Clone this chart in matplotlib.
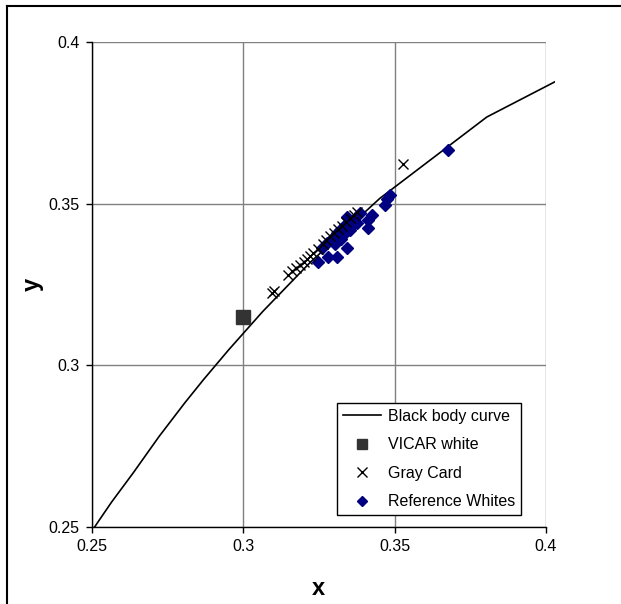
import numpy as np
import matplotlib.pyplot as plt
from matplotlib.lines import Line2D
from matplotlib.patches import Rectangle

plt.rcParams['font.family'] = ['Liberation Sans', 'DejaVu Sans']

# black body (Planckian) locus, 30000 K .. 3000 K
bb_x = [0.2501, 0.2527, 0.2565, 0.2637, 0.2722, 0.2807, 0.2869, 0.2952,
        0.3064, 0.3221, 0.3451, 0.3805, 0.4369]
bb_y = [0.2489, 0.2525, 0.2577, 0.2668, 0.2780, 0.2884, 0.2956, 0.3048,
        0.3166, 0.3318, 0.3516, 0.3768, 0.4041]

vicar_x = [0.300]
vicar_y = [0.3148]

gray_x = [0.3095, 0.3101, 0.3148, 0.3161, 0.3174, 0.3187, 0.3201, 0.3211,
          0.3220, 0.3230, 0.3247, 0.3263, 0.3273, 0.3287, 0.3300, 0.3313,
          0.3326, 0.3339, 0.3353, 0.3366, 0.3376, 0.3527]
gray_y = [0.3224, 0.3230, 0.3280, 0.3292, 0.3301, 0.3310, 0.3320, 0.3329,
          0.3338, 0.3348, 0.3360, 0.3375, 0.3388, 0.3400, 0.3409, 0.3422,
          0.3431, 0.3443, 0.3456, 0.3465, 0.3474, 0.3622]

ref_x = [0.3675, 0.3485, 0.3475, 0.3468, 0.3425, 0.3412, 0.3412, 0.3386,
         0.3343, 0.3353, 0.3376, 0.3343, 0.3310, 0.3280, 0.3247, 0.3260,
         0.3277, 0.3296, 0.3313, 0.3329, 0.3353, 0.3320, 0.3310, 0.3336,
         0.3363, 0.3290, 0.3303, 0.3323]
ref_y = [0.3666, 0.3527, 0.3515, 0.3496, 0.3465, 0.3450, 0.3425, 0.3471,
         0.3459, 0.3428, 0.3440, 0.3363, 0.3335, 0.3335, 0.3320, 0.3363,
         0.3379, 0.3394, 0.3403, 0.3403, 0.3419, 0.3419, 0.3409, 0.3434,
         0.3450, 0.3388, 0.3375, 0.3391]

ticks = [0.25, 0.3, 0.35, 0.4]
tick_labels = ['0.25', '0.3', '0.35', '0.4']

fig = plt.figure(figsize=(6.21, 6.04), dpi=100)
ax = fig.add_axes([0.148, 0.1275, 0.731, 0.803])

ax.set_xlim(0.25, 0.4)
ax.set_ylim(0.25, 0.4)
ax.set_xticks(ticks, tick_labels)
ax.set_yticks(ticks, tick_labels)
ax.grid(True, color='#808080', lw=1)
ax.set_axisbelow(True)
for s in ['top', 'right']:
    ax.spines[s].set_visible(False)
for s in ['left', 'bottom']:
    ax.spines[s].set_linewidth(1)
ax.tick_params(direction='out', length=4, width=1, labelsize=11.5, pad=5)

curve, = ax.plot(bb_x, bb_y, color='black', lw=1.2, zorder=3)
curve.set_clip_path(Rectangle((0, 0), 1.02, 1.0, transform=ax.transAxes))

ax.plot(vicar_x, vicar_y, ls='none', marker='s', ms=10.5, color='#333333',
        zorder=4)
ax.plot(ref_x, ref_y, ls='none', marker='D', ms=6, color='#000080',
        zorder=4)
ax.plot(gray_x, gray_y, ls='none', marker='x', ms=7, mew=1, color='black',
        zorder=5)

ax.set_xlabel('x', fontsize=17, fontweight='bold', va='center')
ax.set_ylabel('y', fontsize=17, fontweight='bold', va='center')
ax.xaxis.set_label_coords(0.498, -0.126)
ax.yaxis.set_label_coords(-0.132, 0.5)

handles = [
    Line2D([], [], color='black', lw=1.2),
    Line2D([], [], ls='none', marker='s', ms=6.5, color='#333333'),
    Line2D([], [], ls='none', marker='x', ms=6.5, mew=1, color='black'),
    Line2D([], [], ls='none', marker='D', ms=5, color='#000080'),
]
labels = ['Black body curve', 'VICAR white', 'Gray Card', 'Reference Whites']
leg = ax.legend(handles, labels, loc='lower right',
                bbox_to_anchor=(0.945, 0.0247), borderaxespad=0,
                fontsize=11.5, fancybox=False, framealpha=1, edgecolor='black',
                handlelength=2.4, handletextpad=0.45, labelspacing=0.85,
                borderpad=0.35)
leg.get_frame().set_linewidth(1)

# outer frame (top and left edges only)
fig.add_artist(Line2D([7 / 621, 1], [1 - 6 / 604, 1 - 6 / 604],
                      color='black', lw=1.5))
fig.add_artist(Line2D([7 / 621, 7 / 621], [0, 1 - 6 / 604],
                      color='black', lw=1.5))

fig.savefig('out.png', dpi=100)
